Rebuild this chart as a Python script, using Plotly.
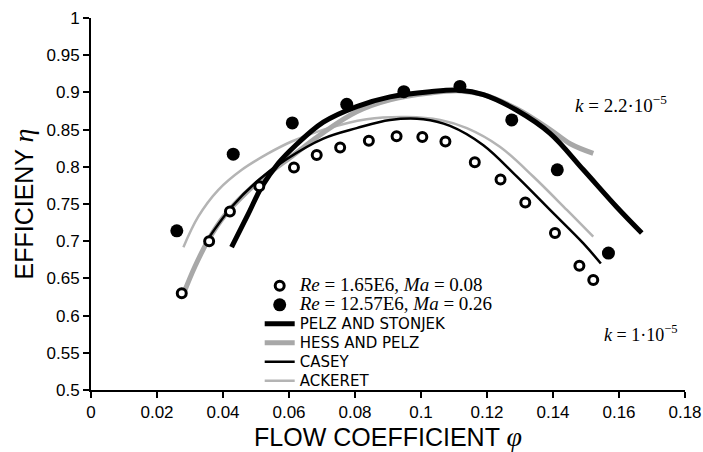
import plotly.graph_objects as go

# Measured data
open_x = [0.0275, 0.0358, 0.0421, 0.0510, 0.0615, 0.0684, 0.0755, 0.0842, 0.0926,
          0.1004, 0.1074, 0.1163, 0.1241, 0.1316, 0.1406, 0.1480, 0.1522]
open_y = [0.630, 0.700, 0.740, 0.774, 0.799, 0.816, 0.826, 0.835, 0.841,
          0.840, 0.834, 0.806, 0.783, 0.752, 0.711, 0.667, 0.648]

filled_x = [0.0260, 0.0431, 0.0610, 0.0775, 0.0948, 0.1118, 0.1275, 0.1413, 0.1568]
filled_y = [0.714, 0.817, 0.859, 0.884, 0.901, 0.908, 0.863, 0.796, 0.684]

ps_x = [0.0426, 0.0477, 0.0517, 0.0568, 0.0618, 0.0704, 0.0805, 0.0906, 0.1027,
        0.1118, 0.1189, 0.1290, 0.1391, 0.1492, 0.1593, 0.1669]
ps_y = [0.692, 0.737, 0.773, 0.805, 0.828, 0.860, 0.881, 0.894, 0.901,
        0.903, 0.897, 0.876, 0.845, 0.796, 0.746, 0.711]

hp_x = [0.0280, 0.0315, 0.0356, 0.0406, 0.0467, 0.0527, 0.0608, 0.0704, 0.0805,
        0.0906, 0.1027, 0.1118, 0.1189, 0.1290, 0.1391, 0.1452, 0.1522]
hp_y = [0.629, 0.666, 0.702, 0.735, 0.764, 0.787, 0.814, 0.846, 0.874,
        0.890, 0.899, 0.902, 0.897, 0.878, 0.850, 0.831, 0.818]

casey_x = [0.0356, 0.0426, 0.0507, 0.0588, 0.0704, 0.0805, 0.0906, 0.1007, 0.1088,
           0.1189, 0.1290, 0.1391, 0.1492, 0.1545]
casey_y = [0.704, 0.746, 0.782, 0.809, 0.838, 0.852, 0.863, 0.864, 0.855,
           0.829, 0.787, 0.742, 0.697, 0.670]

ack_x = [0.0280, 0.0325, 0.0386, 0.0457, 0.0537, 0.0608, 0.0705, 0.0835, 0.0957,
         0.1058, 0.1139, 0.1239, 0.1340, 0.1442, 0.1522]
ack_y = [0.692, 0.733, 0.769, 0.796, 0.818, 0.834, 0.850, 0.864, 0.867,
         0.863, 0.852, 0.827, 0.787, 0.742, 0.706]

x_ticks = [0, 0.02, 0.04, 0.06, 0.08, 0.1, 0.12, 0.14, 0.16, 0.18]
x_tick_text = ["0", "0.02", "0.04", "0.06", "0.08", "0.1", "0.12", "0.14", "0.16", "0.18"]
y_ticks = [0.5, 0.55, 0.6, 0.65, 0.7, 0.75, 0.8, 0.85, 0.9, 0.95, 1]
y_tick_text = ["0.5", "0.55", "0.6", "0.65", "0.7", "0.75", "0.8", "0.85", "0.9", "0.95", "1"]

SERIF = "Liberation Serif"
SANS = "Liberation Sans"
LEG_SANS = "DejaVu Sans"


def sans_name(t):
    return f'<span style="font-family:{LEG_SANS};font-size:15px">{t}</span>'


def serif_name(t):
    return f'<span style="font-family:{SERIF};font-size:19px">{t}</span>'


fig = go.Figure()

fig.add_trace(go.Scatter(x=ack_x, y=ack_y, mode="lines", name=sans_name("ACKERET"),
                         line=dict(color="#b4b4b4", width=2.5, shape="spline"), legendrank=6))
fig.add_trace(go.Scatter(x=hp_x, y=hp_y, mode="lines", name=sans_name("HESS AND PELZ"),
                         line=dict(color="#a8a8a8", width=5, shape="spline"), legendrank=4))
fig.add_trace(go.Scatter(x=casey_x, y=casey_y, mode="lines", name=sans_name("CASEY"),
                         line=dict(color="black", width=2.5, shape="spline"), legendrank=5))
fig.add_trace(go.Scatter(x=ps_x, y=ps_y, mode="lines", name=sans_name("PELZ AND STONJEK"),
                         line=dict(color="black", width=5, shape="spline"), legendrank=3))

fig.add_trace(go.Scatter(
    x=open_x, y=open_y, mode="markers",
    name=serif_name("<i>Re</i> = 1.65E6, <i>Ma</i> = 0.08"),
    marker=dict(symbol="circle", size=9, color="white", line=dict(color="black", width=3)),
    legendrank=1))
fig.add_trace(go.Scatter(
    x=filled_x, y=filled_y, mode="markers",
    name=serif_name("<i>Re</i> = 12.57E6, <i>Ma</i> = 0.26"),
    marker=dict(symbol="circle", size=13, color="black"),
    legendrank=2))

fig.add_annotation(x=0.1606, y=0.884, xref="x", yref="y", showarrow=False,
                   text="<i>k</i> = 2.2·10<sup>−5</sup>",
                   font=dict(family=SERIF, size=19, color="black"))
fig.add_annotation(x=0.1667, y=0.576, xref="x", yref="y", showarrow=False,
                   text="<i>k</i> = 1·10<sup>−5</sup>",
                   font=dict(family=SERIF, size=18, color="black"))

fig.update_layout(
    width=703, height=452,
    margin=dict(l=91, r=18, t=18, b=62, autoexpand=False),
    paper_bgcolor="white", plot_bgcolor="white",
    font=dict(family=SANS, color="black"),
    showlegend=True,
    legend=dict(x=0.284, y=0.319, xanchor="left", yanchor="top",
                bgcolor="rgba(0,0,0,0)", font=dict(family=SANS, size=12.2),
                tracegroupgap=0, itemwidth=30),
    xaxis=dict(range=[0, 0.18], tickvals=x_ticks, ticktext=x_tick_text,
               automargin=False,
               showgrid=False, zeroline=False, showline=True, linecolor="black",
               linewidth=2, ticks="outside", ticklen=6, tickwidth=1.5, tickcolor="black",
               tickfont=dict(size=17),
               title=dict(text='FLOW COEFFICIENT <span style="font-family:Liberation Serif;font-size:28px"><i>φ</i></span>',
                          font=dict(size=25), standoff=8)),
    yaxis=dict(range=[0.5, 1], tickvals=y_ticks, ticktext=y_tick_text,
               automargin=False,
               showgrid=False, zeroline=False, showline=True, linecolor="black",
               linewidth=2, ticks="outside", ticklen=6, tickwidth=1.5, tickcolor="black",
               tickfont=dict(size=17),
               title=dict(text='EFFICIENY <span style="font-family:Liberation Serif;font-size:28px"><i>η</i></span>',
                          font=dict(size=25), standoff=6)),
)

fig.write_html("out.html")
